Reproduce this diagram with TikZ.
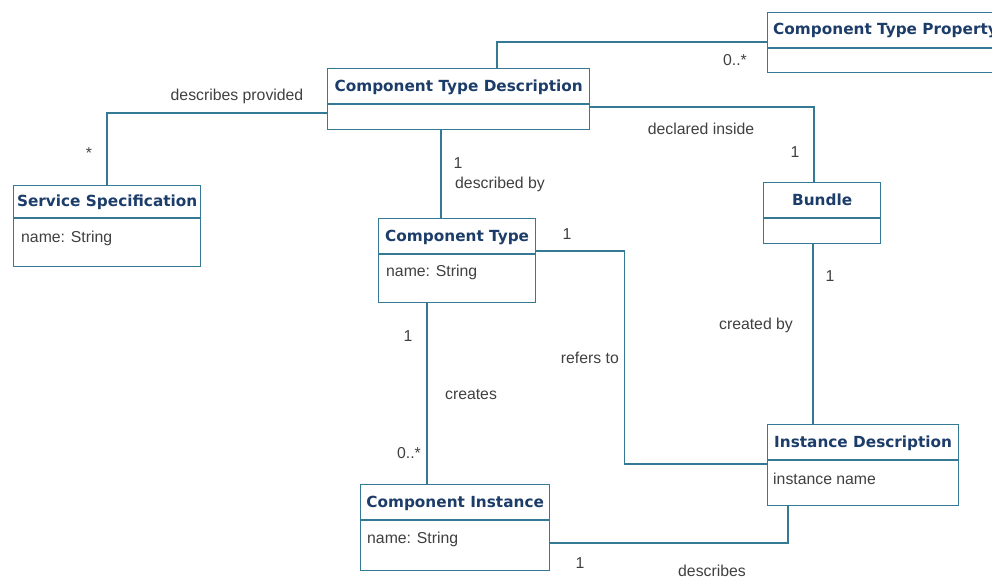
\documentclass[tikz,border=0pt]{standalone}
\usepackage{fontspec}
\setmainfont{Liberation Sans}
\newfontfamily\hdrfont{DejaVu Sans}
\definecolor{ln}{RGB}{52,122,148}
\definecolor{hd}{RGB}{28,60,105}
\definecolor{tx}{RGB}{64,64,64}
\begin{document}
\begin{tikzpicture}[x=1pt,y=-1pt,
 cls/.style={draw=ln, line width=1.3pt, fill=white, inner sep=0pt, anchor=north west},
 conn/.style={draw=ln, line width=1.3pt},
 title/.style={font=\hdrfont\bfseries\fontsize{15.3}{17}\selectfont, text=hd, anchor=base, inner sep=0pt},
 attr/.style={font=\fontsize{15.8}{17}\selectfont, text=tx, anchor=base west, inner sep=0pt},
 lab/.style={font=\fontsize{15.8}{17}\selectfont, text=tx, anchor=base, inner sep=0pt}]
\useasboundingbox (0,0) rectangle (992,578);
% classes
\node[cls, minimum width=262pt, minimum height=61pt] (ctd) at (327,68) {};
\node[cls, minimum width=233pt, minimum height=60pt] (ctp) at (767,12) {};
\node[cls, minimum width=187pt, minimum height=81pt] (ss) at (13,185) {};
\node[cls, minimum width=157pt, minimum height=84pt] (ct) at (378,218) {};
\node[cls, minimum width=117pt, minimum height=61pt] (bun) at (763,182) {};
\node[cls, minimum width=191pt, minimum height=81pt] (id) at (767,424) {};
\node[cls, minimum width=189pt, minimum height=86pt] (ci) at (360,484) {};
% dividers
\draw[conn] ([yshift=-36pt]ctd.north west) -- ([yshift=-36pt]ctd.north east);
\draw[conn] ([yshift=-36pt]ctp.north west) -- ([yshift=-36pt]ctp.north east);
\draw[conn] ([yshift=-33pt]ss.north west) -- ([yshift=-33pt]ss.north east);
\draw[conn] ([yshift=-36pt]ct.north west) -- ([yshift=-36pt]ct.north east);
\draw[conn] ([yshift=-36pt]bun.north west) -- ([yshift=-36pt]bun.north east);
\draw[conn] ([yshift=-36pt]id.north west) -- ([yshift=-36pt]id.north east);
\draw[conn] ([yshift=-36pt]ci.north west) -- ([yshift=-36pt]ci.north east);
% titles
\node[title] (ctdt) at ([yshift=-23pt]ctd.north) {Component Type Description};
\node[title] (ctpt) at ([shift={(6,23)}]ctp.north west) [anchor=base west] {Component Type Property};
\node[title] (sst) at ([yshift=-21pt]ss.north) {Service Specification};
\node[title] (ctt) at ([yshift=-23pt]ct.north) {Component Type};
\node[title] (bunt) at ([yshift=-23pt]bun.north) {Bundle};
\node[title] (idt) at ([yshift=-23pt]id.north) {Instance Description};
\node[title] (cit) at ([yshift=-23pt]ci.north) {Component Instance};
% attributes
\node[attr] (ssa) at ([shift={(8,57)}]ss.north west) {name: String};
\node[attr] (cta) at ([shift={(8,58)}]ct.north west) {name: String};
\node[attr] (ida) at ([shift={(6,60)}]id.north west) {instance name};
\node[attr] (cia) at ([shift={(7,59)}]ci.north west) {name: String};
% connectors
\draw[conn] ([xshift=170pt]ctd.north west) |- ([yshift=-30pt]ctp.north west);
\draw[conn] ([xshift=94pt]ss.north west) |- ([yshift=-45pt]ctd.north west);
\draw[conn] ([yshift=-39pt]ctd.north east) -| ([xshift=51pt]bun.north west);
\draw[conn] ([xshift=114pt]ctd.south west) -- ([xshift=63pt]ct.north west);
\draw[conn] ([yshift=-33pt]ct.north east) -- ++(88,0) |- ([yshift=-40pt]id.north west);
\draw[conn] ([xshift=50pt]bun.south west) -- ([xshift=46pt]id.north west);
\draw[conn] ([xshift=49pt]ct.south west) -- ([xshift=67pt]ci.north west);
\draw[conn] ([xshift=21pt]id.south west) |- ([yshift=-59pt]ci.north east);
% labels
\node[lab] (l1) at (237,100) {describes provided};
\node[lab] (l2) at (89,158) {*};
\node[lab] (l3) at (735,66) {0..*};
\node[lab] (l4) at (701,134) {declared inside};
\node[lab] (l5) at (795,157) {1};
\node[lab] (l6) at (458,168) {1};
\node[lab, anchor=base west] (l7) at (455,188) {described by};
\node[lab] (l8) at (567,239) {1};
\node[lab] (l9) at (830,281) {1};
\node[lab] (l10) at (756,329) {created by};
\node[lab, anchor=base east] (l11) at (619,363) {refers to};
\node[lab] (l12) at (408,341) {1};
\node[lab] (l13) at (471,399) {creates};
\node[lab] (l14) at (409,458) {0..*};
\node[lab] (l15) at (580,568) {1};
\node[lab] (l16) at (712,576) {describes};
\end{tikzpicture}
\end{document}
